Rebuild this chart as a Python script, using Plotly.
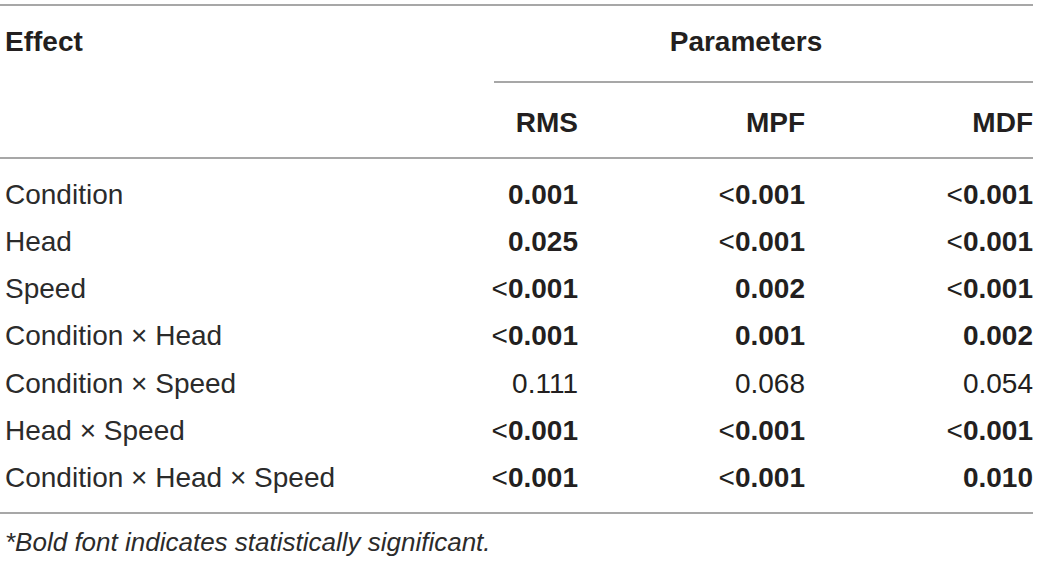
import plotly.graph_objects as go

# table data
effects = ["Condition", "Head", "Speed", "Condition × Head", "Condition × Speed",
           "Head × Speed", "Condition × Head × Speed"]
columns = ["RMS", "MPF", "MDF"]
rms = ["0.001", "0.025", "<0.001", "<0.001", "0.111", "<0.001", "<0.001"]
mpf = ["<0.001", "<0.001", "0.002", "0.001", "0.068", "<0.001", "<0.001"]
mdf = ["<0.001", "<0.001", "<0.001", "0.002", "0.054", "<0.001", "0.010"]
# bold = statistically significant
sig_rms = [True, True, True, True, False, True, True]
sig_mpf = [True, True, True, True, False, True, True]
sig_mdf = [True, True, True, True, False, True, True]
footnote = "*Bold font indicates statistically significant."

W, H = 1039, 562
FONT = "Liberation Sans, Arial, Helvetica, sans-serif"
INK = "#231f20"
LINE = "#8a8a8a"
col_x = [578, 805, 1033]
row_y0, row_step = 196.5, 47.3


def fmt(v, bold):
    if not bold:
        return v.replace("<", "&lt;")
    if v.startswith("<"):
        return "&lt;<b>" + v[1:] + "</b>"
    return "<b>" + v + "</b>"


row_y = [row_y0 + i * row_step for i in range(len(effects))]

fig = go.Figure()

# effect labels
fig.add_trace(go.Scatter(
    x=[5] * len(effects), y=row_y, text=effects, mode="text",
    textposition="middle right", textfont=dict(family=FONT, size=28, color="#2b2b2b"),
    hoverinfo="skip", cliponaxis=False))

# value columns
for cx, vals, sig in zip(col_x, [rms, mpf, mdf], [sig_rms, sig_mpf, sig_mdf]):
    fig.add_trace(go.Scatter(
        x=[cx] * len(vals), y=row_y, text=[fmt(v, s) for v, s in zip(vals, sig)],
        mode="text", textposition="middle left",
        textfont=dict(family=FONT, size=28, color=INK), hoverinfo="skip",
        cliponaxis=False))

# column headers
fig.add_trace(go.Scatter(
    x=col_x, y=[124.5] * 3, text=["<b>%s</b>" % c for c in columns], mode="text",
    textposition="middle left", textfont=dict(family=FONT, size=28, color=INK),
    hoverinfo="skip", cliponaxis=False))

fig.add_trace(go.Scatter(
    x=[5, 746], y=[44, 44], text=["<b>Effect</b>", "<b>Parameters</b>"], mode="text",
    textposition=["middle right", "middle center"],
    textfont=dict(family=FONT, size=28, color=INK), hoverinfo="skip",
    cliponaxis=False))

fig.add_trace(go.Scatter(
    x=[5], y=[544], text=["<i>" + footnote + "</i>"], mode="text",
    textposition="middle right", textfont=dict(family=FONT, size=26, color="#2b2b2b"),
    hoverinfo="skip", cliponaxis=False))

# rules
for x0, x1, y in [(0, 1033, 5), (494, 1033, 82), (0, 1033, 158), (0, 1033, 513)]:
    fig.add_shape(type="line", x0=x0, x1=x1, y0=y, y1=y, xref="x", yref="y",
                  line=dict(color=LINE, width=1.5))

fig.update_layout(
    width=W, height=H, margin=dict(l=0, r=0, t=0, b=0),
    paper_bgcolor="white", plot_bgcolor="white", showlegend=False,
    xaxis=dict(range=[0, W], visible=False, fixedrange=True),
    yaxis=dict(range=[H, 0], visible=False, fixedrange=True),
)

# drop the default page margin so the figure sits at the window corner
fig.write_html("out.html", config={"displayModeBar": False},
               post_script="document.body.style.margin='0';"
                           "document.body.style.overflow='hidden';")
